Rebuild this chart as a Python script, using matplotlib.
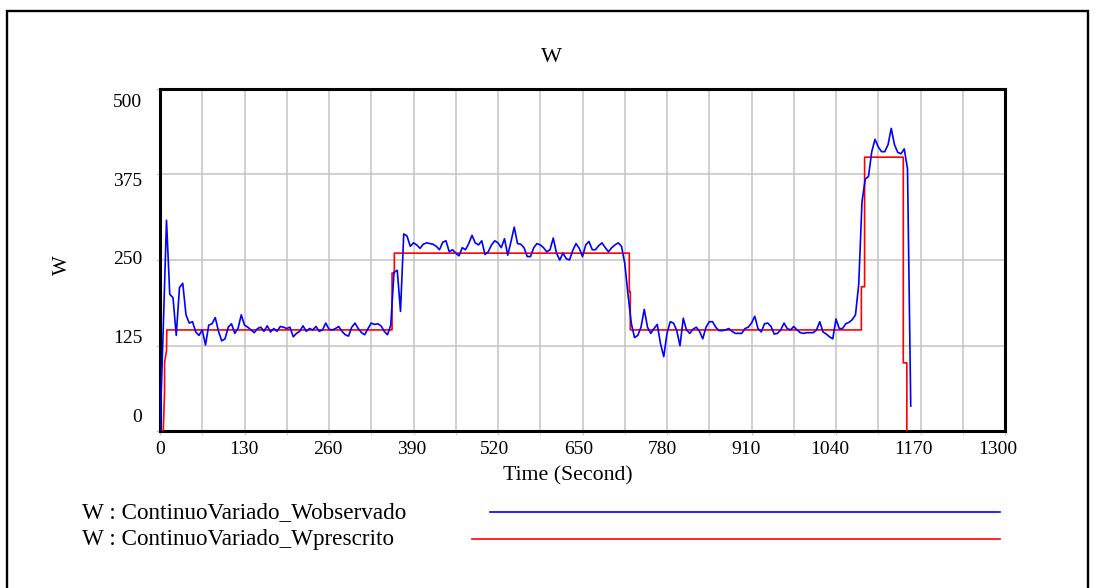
import matplotlib
matplotlib.use("Agg")
import matplotlib.pyplot as plt
import numpy as np
from matplotlib.patches import Rectangle
from matplotlib.lines import Line2D

plt.rcParams["font.family"] = ["Liberation Serif", "DejaVu Serif"]

# W observed, saved every 5 seconds from t = 0
step_s = 5
w_observado = [
    0, 150, 308, 200, 195, 140, 210, 216, 170, 158, 160, 145,
    140, 148, 126, 155, 157, 166, 146, 132, 135, 152, 157, 143,
    150, 170, 155, 152, 148, 144, 150, 152, 146, 154, 145, 150,
    146, 153, 152, 150, 152, 138, 143, 146, 154, 146, 150, 148,
    153, 146, 148, 158, 149, 148, 150, 153, 146, 141, 139, 152,
    158, 150, 144, 141, 150, 158, 156, 157, 154, 146, 141, 155,
    232, 235, 175, 288, 285, 270, 275, 272, 267, 273, 275, 274,
    273, 270, 265, 276, 278, 262, 265, 260, 256, 268, 265, 274,
    286, 275, 272, 278, 258, 262, 272, 278, 275, 268, 281, 257,
    277, 298, 274, 273, 268, 255, 255, 268, 274, 272, 268, 262,
    265, 282, 260, 250, 260, 252, 250, 264, 274, 267, 255, 272,
    277, 265, 265, 271, 275, 268, 262, 268, 272, 275, 270, 245,
    200, 158, 137, 140, 152, 178, 152, 143, 150, 156, 128, 109,
    143, 160, 158, 147, 125, 165, 148, 143, 149, 152, 146, 135,
    152, 160, 160, 152, 147, 147, 148, 150, 146, 143, 143, 143,
    150, 152, 158, 168, 150, 145, 157, 158, 153, 142, 143, 148,
    158, 150, 148, 153, 148, 144, 143, 144, 144, 144, 148, 160,
    145, 142, 138, 135, 164, 150, 150, 157, 159, 163, 170, 215,
    335, 368, 372, 408, 426, 415, 408, 408, 418, 442, 418, 407,
    405, 412, 383, 37,
]
t_observado = np.arange(len(w_observado)) * step_s

# W prescribed (step profile)
t_prescrito = [0, 5, 7, 7, 10, 10.5, 357, 357, 360.5, 360.5, 722, 722, 723.5, 723.5,
               1079, 1079, 1084, 1084, 1143.5, 1143.5, 1149, 1149]
w_prescrito = [0, 0, 58, 100, 118, 148, 148, 231, 231, 260, 260, 204, 204, 148,
               148, 211, 211, 400, 400, 100, 100, 0]

x_ticks = [0, 130, 260, 390, 520, 650, 780, 910, 1040, 1170, 1300]
y_ticks = [0, 125, 250, 375, 500]

fig = plt.figure(figsize=(10.96, 5.88), dpi=100)
ax = fig.add_axes([160 / 1096, 1 - 431.4 / 588, 845 / 1096, 342.8 / 588])

ax.plot(t_prescrito, w_prescrito, color="#ff0000", lw=1.2, zorder=3)
ax.plot(t_observado, w_observado, color="#0000ff", lw=1.2, zorder=4)

ax.set_xlim(0, 1300)
ax.set_ylim(0, 500)
ax.set_xticks(x_ticks)
ax.set_xticks(np.array(x_ticks[:-1]) + 65, minor=True)
ax.set_yticks(y_ticks)
ax.grid(which="both", axis="x", color="#c8c8c8", lw=1.2)
ax.grid(which="major", axis="y", color="#c8c8c8", lw=1.2)
ax.set_axisbelow(True)
ax.tick_params(which="both", labelbottom=False, labelleft=False,
               length=3, color="#c8c8c8")
for s in ax.spines.values():
    s.set_linewidth(2.2)
    s.set_color("black")

# Vensim-style tick labels, squeezed slightly inside the axis range
for xt in x_ticks:
    ax.text(xt * 0.991, -0.054, str(xt), transform=ax.get_xaxis_transform(),
            ha="center", va="center", fontsize=14)
for yt in y_ticks:
    ax.text(-0.021, 21 + yt * 0.916, str(yt), transform=ax.get_yaxis_transform(),
            ha="right", va="center", fontsize=14)

fig.text(0.503, 0.903, "W", ha="center", va="center", fontsize=16)
fig.text(0.0566, 0.549, "W", ha="center", va="center", rotation=90, fontsize=15)
fig.text(0.518, 0.190, "Time (Second)", ha="center", va="center", fontsize=15.7)

# legend rows
fig.text(82 / 1096, 1 - 513 / 588, "W : ContinuoVariado_Wobservado",
         ha="left", va="center", fontsize=16.7)
fig.text(82 / 1096, 1 - 540 / 588, "W : ContinuoVariado_Wprescrito",
         ha="left", va="center", fontsize=16.7)
fig.add_artist(Line2D([490 / 1096, 1000 / 1096], [1 - 512 / 588] * 2,
                      color="#0000ff", lw=1.2, transform=fig.transFigure))
fig.add_artist(Line2D([472 / 1096, 1000 / 1096], [1 - 539 / 588] * 2,
                      color="#ff0000", lw=1.2, transform=fig.transFigure))

# outer frame
fig.add_artist(Rectangle((7 / 1096, -0.1), (1088 - 7) / 1096, 1 - 11 / 588 + 0.1,
                         transform=fig.transFigure, fill=False, lw=1.7,
                         ec="black"))

fig.savefig("out.png", dpi=100)
